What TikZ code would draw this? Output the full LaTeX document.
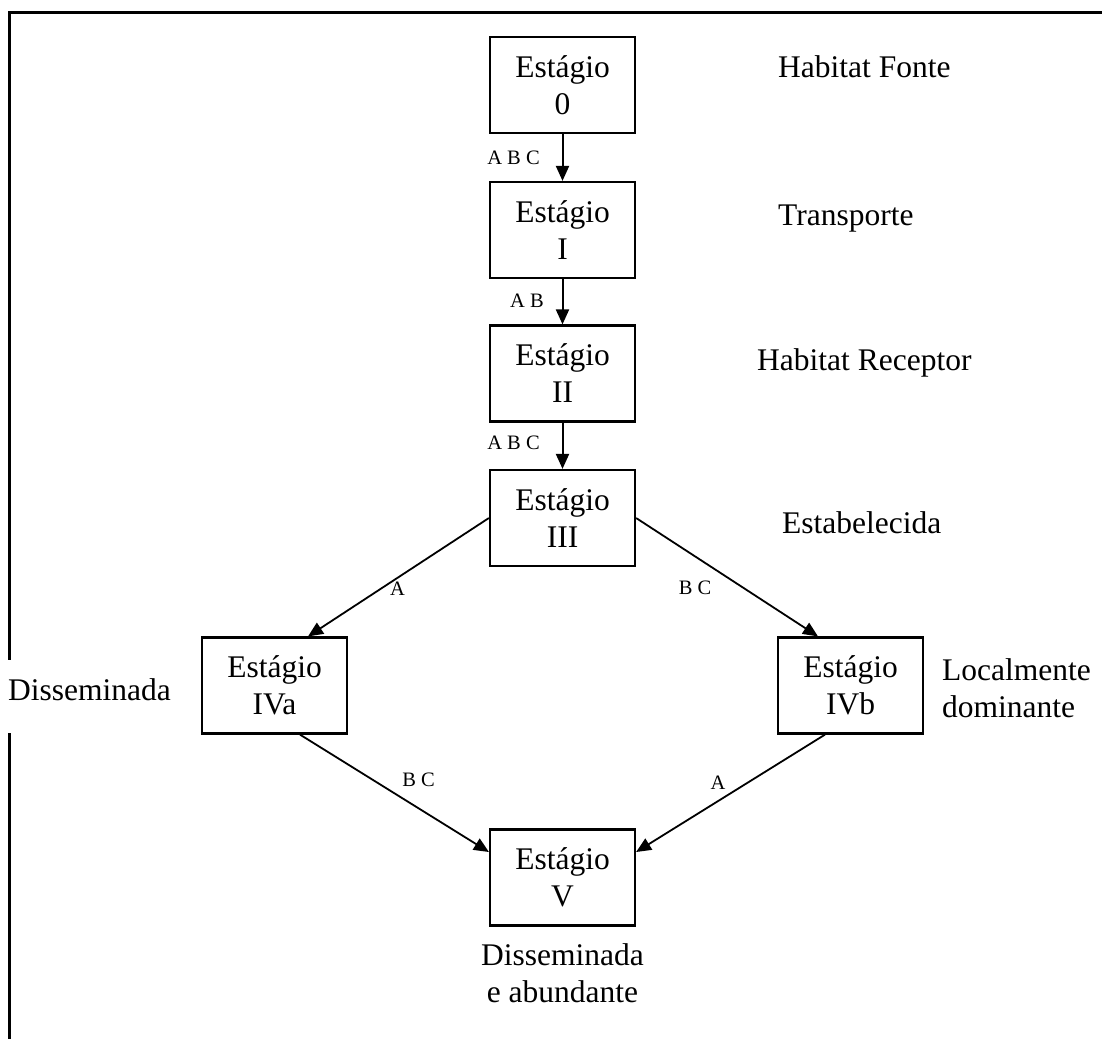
\documentclass[tikz,border=0pt]{standalone}
\usepackage{fontspec}
\setmainfont{Liberation Serif}
\usetikzlibrary{arrows.meta}
\begin{document}
\begin{tikzpicture}[x=1pt,y=-1pt,
 stagebox/.style={draw, line width=2.2pt, minimum width=145pt, minimum height=96pt, inner sep=0pt, align=center, font=\fontsize{31.5}{37}\selectfont},
 biglabel/.style={inner sep=0pt, align=left, font=\fontsize{31.5}{37}\selectfont},
 arrlabel/.style={inner sep=0pt, font=\fontsize{20.5}{24}\selectfont},
 conn/.style={line width=2pt, -{Triangle[length=15pt,width=13pt]}},
 diag/.style={line width=1.8pt, -{Triangle[length=15pt,width=13pt]}},
 frame/.style={line width=2.3pt}]
\useasboundingbox (0,0) rectangle (1102,1039);
% frame
\draw[frame] (1102,12.5) -- (9.5,12.5) -- (9.5,660);
\draw[frame] (9.5,733) -- (9.5,1039);
% boxes
\node[stagebox] (S0) at (562.5,85) {Estágio\\0};
\node[stagebox] (SI) at (562.5,230) {Estágio\\I};
\node[stagebox] (SII) at (562.5,373.5) {Estágio\\II};
\node[stagebox] (SIII) at (562.5,518) {Estágio\\III};
\node[stagebox] (SIVa) at (274.5,685.5) {Estágio\\IVa};
\node[stagebox] (SIVb) at (850.5,685.5) {Estágio\\IVb};
\node[stagebox] (SV) at (562.5,877.5) {Estágio\\V};
% side labels
\node[biglabel, anchor=base west] (L0) at (778,77) {Habitat Fonte};
\node[biglabel, anchor=base west] (L1) at (778,225) {Transporte};
\node[biglabel, anchor=base west] (L2) at (757,370) {Habitat Receptor};
\node[biglabel, anchor=base west] (L3) at (782,533) {Estabelecida};
\node[biglabel, anchor=base west] (L4a) at (8,700) {Disseminada};
\node[biglabel, anchor=north west] (L4b) at (942,658.5) {Localmente\\dominante};
\node[biglabel, anchor=north, align=center] (L5) at (562.5,943.5) {Disseminada\\e abundante};
% connectors
\draw[conn] (S0) -- (SI);
\draw[conn] (SI) -- (SII);
\draw[conn] (SII) -- (SIII);
\draw[diag] (SIII.west) -- ([xshift=33.5pt]SIVa.north);
\draw[diag] (SIII.east) -- ([xshift=-32.5pt]SIVb.north);
\draw[diag] ([xshift=25.5pt]SIVa.south) -- ([yshift=25.5pt]SV.west);
\draw[diag] ([xshift=-25.5pt]SIVb.south) -- ([yshift=25.5pt]SV.east);
% connector labels
\node[arrlabel] (a1) at (513.5,158) {A B C};
\node[arrlabel] (a2) at (527,301) {A B};
\node[arrlabel] (a3) at (513.5,443) {A B C};
\node[arrlabel] (a4) at (397.5,589) {A};
\node[arrlabel] (a5) at (695,588) {B C};
\node[arrlabel] (a6) at (418.5,780) {B C};
\node[arrlabel] (a7) at (718,783) {A};
\end{tikzpicture}
\end{document}
